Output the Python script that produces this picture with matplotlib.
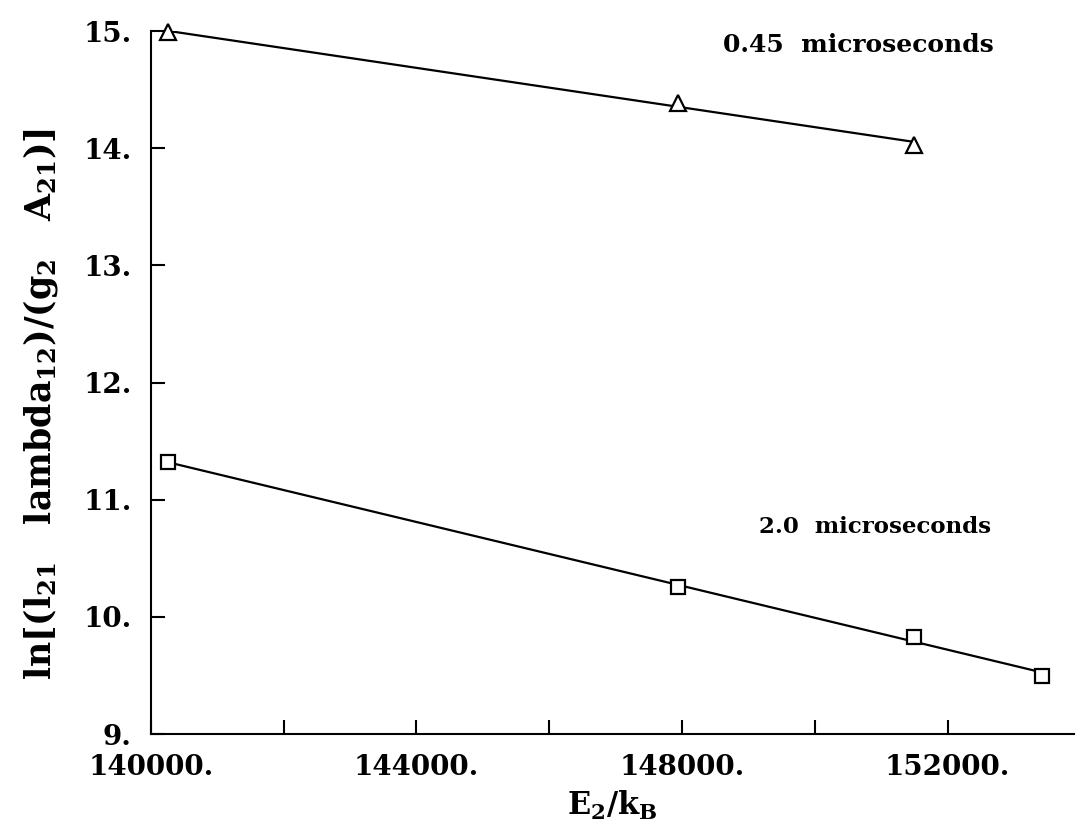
import matplotlib
matplotlib.use('Agg')
import matplotlib.pyplot as plt
import numpy as np

# data
E2_kB = [140260, 147940, 151490, 153430]
short_gate = [14.99, 14.39, 14.03]          # 0.45 microseconds (triangles)
long_gate = [11.32, 10.26, 9.83, 9.50]      # 2.0 microseconds (squares)

params = {
    'font.family': 'DejaVu Serif',
    'font.weight': 'bold',
    'axes.labelweight': 'bold',
    'font.size': 20,
    'mathtext.fontset': 'custom',
    'mathtext.default': 'bf',
    'mathtext.bf': 'DejaVu Serif:bold',
    'mathtext.rm': 'DejaVu Serif:bold',
    'axes.linewidth': 1.5,
}
plt.rcParams.update(params)

fig = plt.figure(figsize=(10.78, 8.4), dpi=100)
ax = fig.add_axes([0.140, 0.126, 0.856, 0.837])

x_s = np.array(E2_kB[:len(short_gate)])
x_l = np.array(E2_kB)

# straight-line fits through each set
p_s = np.polyfit(x_s, short_gate, 1)
p_l = np.polyfit(x_l, long_gate, 1)
ax.plot(x_s, np.polyval(p_s, x_s), 'k-', lw=1.6)
ax.plot(x_l, np.polyval(p_l, x_l), 'k-', lw=1.6)

ax.plot(x_s, short_gate, 'k^', ms=11, mfc='white', mew=1.6, clip_on=False)
ax.plot(x_l, long_gate, 'ks', ms=10, mfc='white', mew=1.6, clip_on=False)

ax.text(150660, 14.88, '0.45  microseconds', fontsize=18, ha='center', va='center')
ax.text(150910, 10.77, '2.0  microseconds', fontsize=16.5, ha='center', va='center')

ax.set_xlim(140000, 153900)
ax.set_ylim(9, 15)
ax.set_xticks([140000, 144000, 148000, 152000])
ax.set_xticks([142000, 146000, 150000], minor=True)
ax.set_yticks([9, 10, 11, 12, 13, 14, 15])
ax.set_xticklabels(['%d.' % v for v in [140000, 144000, 148000, 152000]])
ax.set_yticklabels(['%d.' % v for v in [9, 10, 11, 12, 13, 14, 15]])
ax.tick_params(which='both', direction='in', length=10, width=1.5)
ax.tick_params(axis='x', pad=14)
ax.tick_params(axis='y', pad=14)

ax.spines['top'].set_visible(False)
ax.spines['right'].set_visible(False)

ax.set_xlabel(r'E$_{2}$/k$_{B}$', fontsize=22, labelpad=6)
ax.set_ylabel(r'ln[(l$_{21}$   lambda$_{12}$)/(g$_{2}$   A$_{21}$)]', fontsize=25)
ax.yaxis.set_label_coords(-0.098, 0.47)

fig.savefig('out.png', dpi=100)
